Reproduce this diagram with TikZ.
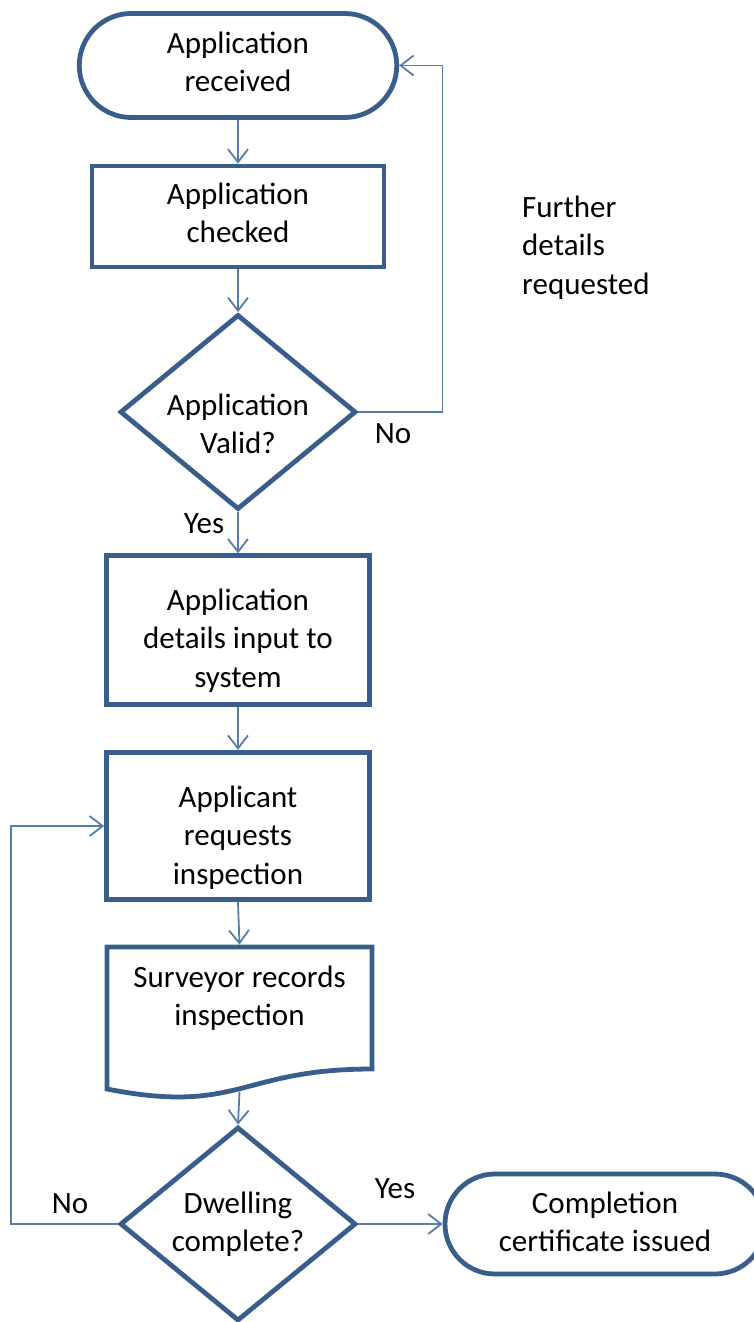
\documentclass[tikz,border=0pt]{standalone}
\usepackage{fontspec}
\setmainfont{Carlito}
\usetikzlibrary{shapes.geometric,shapes.misc,arrows.meta}
\definecolor{shapeblue}{RGB}{58,94,140}
\definecolor{connblue}{RGB}{88,124,170}
\newcommand{\mlines}[1]{\begin{tabular}[t]{@{}c@{}}#1\end{tabular}}
\newcommand{\llines}[1]{\begin{tabular}[t]{@{}l@{}}#1\end{tabular}}
\begin{document}
\begin{tikzpicture}[x=1pt,y=-1pt,
  font=\fontsize{31}{38.6}\selectfont,
  shp/.style={draw=shapeblue, line width=4.8pt, fill=white, inner sep=0pt},
  boxshape/.style={shp, rectangle},
  term/.style={shp, rounded rectangle},
  dec/.style={shp, diamond},
  conn/.style={draw=connblue, line width=1.8pt, -{Straight Barb[length=13pt,width=20pt,line width=1.8pt]}},
  txt/.style={anchor=base, inner sep=0pt},
]
\useasboundingbox (0,0) rectangle (753,1322);

% shapes
\node[term, minimum width=317.5pt, minimum height=104pt] (t1) at (238,65.5) {};
\node[boxshape, minimum width=292pt, minimum height=101pt] (b2) at (238,216.5) {};
\node[dec, minimum width=236pt, minimum height=195pt] (d1) at (238,412) {};
\node[boxshape, minimum width=263pt, minimum height=148.5pt] (b3) at (238,630) {};
\node[boxshape, minimum width=263pt, minimum height=147.5pt] (b4) at (238,826) {};
\node[rectangle, draw=none, inner sep=0pt, outer sep=2.4pt, minimum width=265pt, minimum height=142pt] (doc) at (239.5,1018) {};
\draw[shp] (107,947) -- (372,947) -- (372,1069) .. controls (239.5,1069) and (239.5,1115) .. (107,1089) -- cycle;
\node[dec, minimum width=236pt, minimum height=194pt] (d2) at (238,1224) {};
\node[term, minimum width=320pt, minimum height=100pt] (t2) at (605,1224) {};

% texts
\node[txt] (t1txt) at (238,53) {\mlines{Application\\received}};
\node[txt] (b2txt) at (238,204) {\mlines{Application\\checked}};
\node[txt] (d1txt) at (238,415) {\mlines{Application\\Valid?}};
\node[txt] (b3txt) at (238,610) {\mlines{Application\\details input to\\system}};
\node[txt] (b4txt) at (238,807) {\mlines{Applicant\\requests\\inspection}};
\node[txt] (doctxt) at (239.5,987) {\mlines{Surveyor records\\inspection}};
\node[txt] (d2txt) at (238,1213) {\mlines{Dwelling\\complete?}};
\node[txt] (t2txt) at (605,1213) {\mlines{Completion\\certificate issued}};
\node[txt, anchor=base west] (further) at (522,217) {\llines{Further\\details\\requested}};

% labels
\node[txt] (no1) at (393,443) {No};
\node[txt] (yes1) at (204,533) {Yes};
\node[txt] (no2) at (70,1213) {No};
\node[txt] (yes2) at (395,1198) {Yes};

% connectors
\draw[conn] (t1.south) -- (b2.north);
\draw[conn] (b2.south) -- (d1.north);
\draw[conn] (d1.south) -- (b3.north);
\draw[conn] (b3.south) -- (b4.north);
\draw[conn] (b4.south) -- (doc.north);
\draw[conn] (doc.south) -- (d2.north);
\draw[conn] (d2.east) -- (t2.west);
\draw[conn] (d1.east) -- ++(84,0) |- (t1.east);
\draw[conn] (d2.west) -- ++(-107,0) |- (b4.west);
\end{tikzpicture}
\end{document}
